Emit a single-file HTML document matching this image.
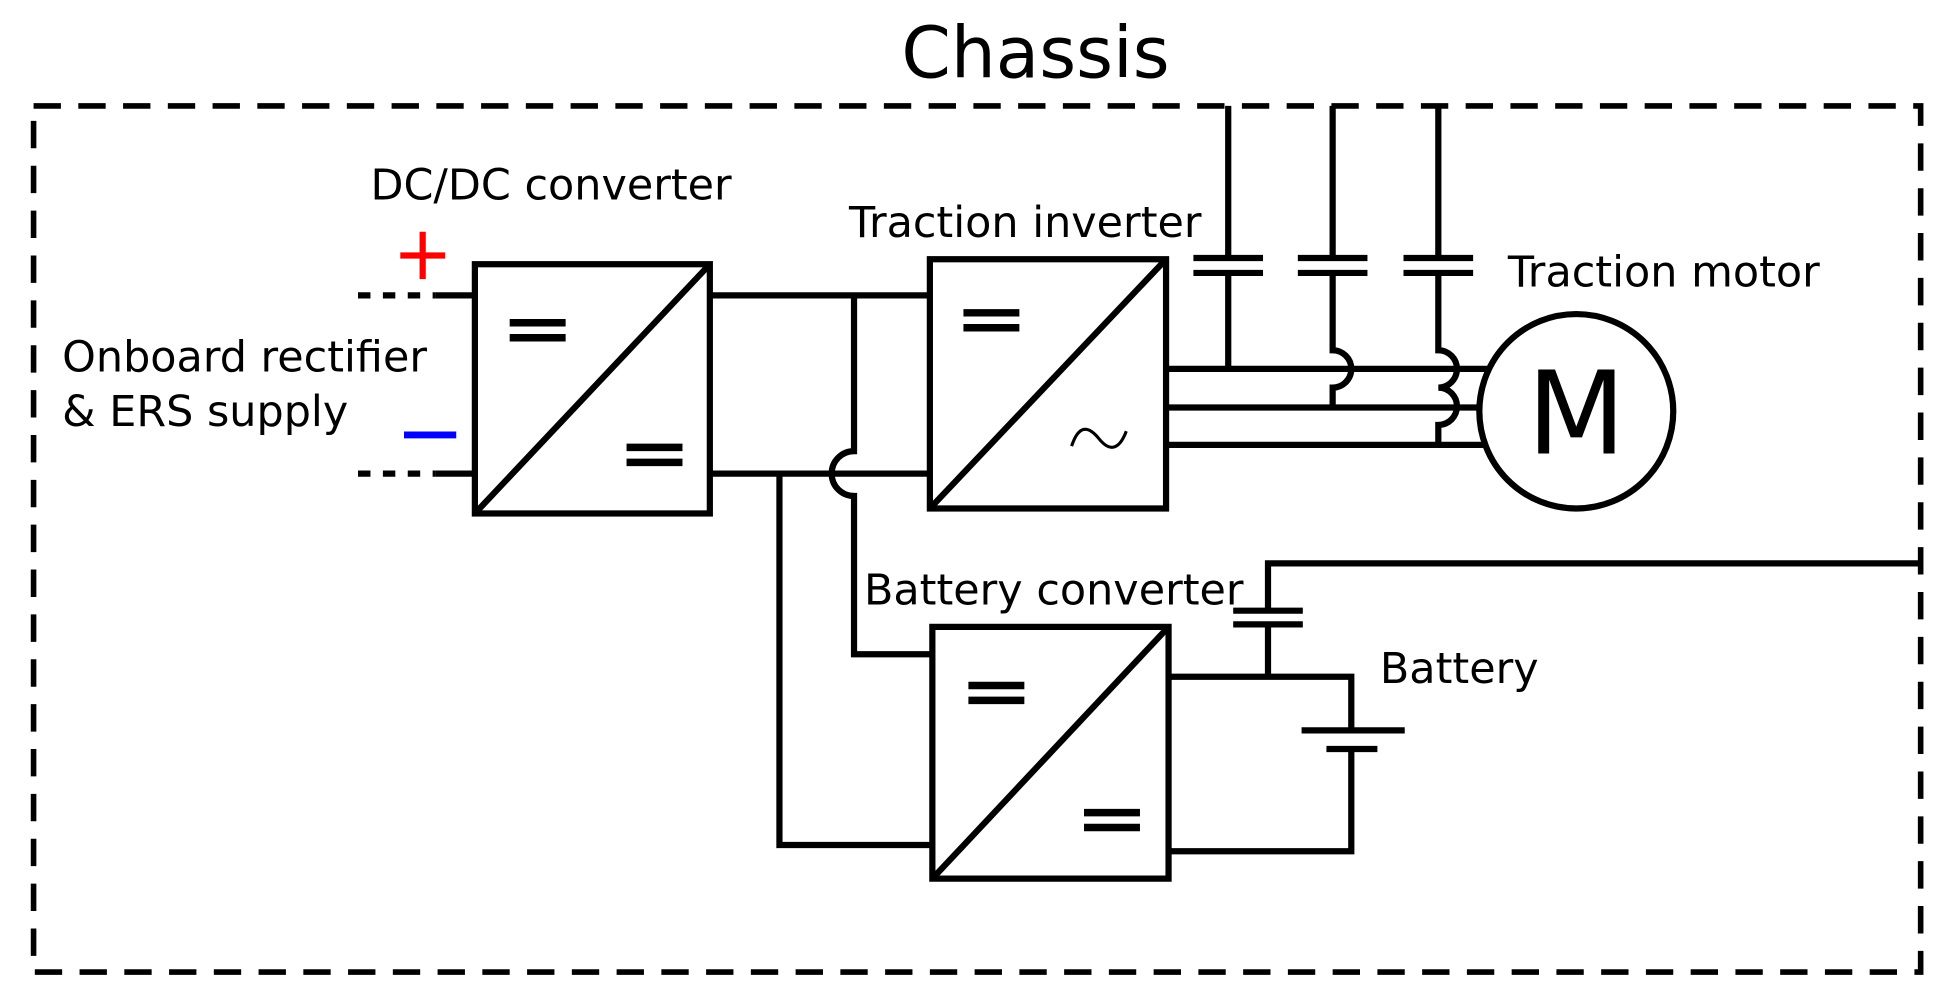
<!DOCTYPE html>
<html><head><style>html,body{margin:0;padding:0;background:#fff}svg{display:block}</style></head>
<body>
<svg width="1948" height="1007" viewBox="0 0 1567 808" preserveAspectRatio="none" xmlns="http://www.w3.org/2000/svg">
<g font-family="DejaVu Sans, Liberation Sans, sans-serif" fill="#000">
<text x="833" y="62" font-size="57" text-anchor="middle">Chassis</text>
<text x="298" y="160" font-size="34.5">DC/DC converter</text>
<text x="683" y="190" font-size="34.5">Traction inverter</text>
<text x="1213" y="230" font-size="34.5">Traction motor</text>
<text x="50" y="298" font-size="34.5">Onboard rectifier</text>
<text x="50" y="342" font-size="34.5">&amp; ERS supply</text>
<text x="695" y="485" font-size="34.5">Battery converter</text>
<text x="1110" y="548" font-size="34.5">Battery</text>
</g>
<rect x="27" y="85" width="1518" height="695" fill="none" stroke="#000" stroke-width="4.5" stroke-dasharray="22,14"/>
<g stroke="#000" stroke-width="5" fill="none">
<path d="M340 186V224M322 205H358" stroke="#f00"/>
<path d="M325 349H367" stroke="#00f" stroke-width="5.5"/>
<path d="M288 237H350" stroke-dasharray="10,10"/>
<path d="M350 237H382"/>
<path d="M288 380H350" stroke-dasharray="10,10"/>
<path d="M350 380H382"/>
<rect x="382" y="212" width="189" height="200"/>
<path d="M382 412L571 212"/>
<path d="M410 259H455M410 271H455M504 359H549M504 371H549" stroke-width="6"/>
<path d="M571 237H748"/>
<path d="M571 380H748"/>
<path d="M687 237V362A18 18 0 0 0 687 398V525H750"/>
<path d="M627 380V678H750"/>
<rect x="748" y="208" width="190" height="200"/>
<path d="M748 408L938 208"/>
<path d="M775 251H820M775 263H820" stroke-width="6"/>
<path d="M862 358C868 340 876 342 884 352S900 362 906 346" stroke-width="2.5"/>
<path d="M938 296H1198M938 327H1190M938 357H1193"/>
<circle cx="1268" cy="330" r="78"/>
<path d="M988 85V207M960 207H1016M960 219H1016M988 219V296"/>
<path d="M1072 85V207M1044 207H1100M1044 219H1100M1072 219V281A15 15 0 0 1 1072 311V327"/>
<path d="M1157 85V207M1129 207H1185M1129 219H1185M1157 219V281A15 15 0 0 1 1157 311A15 15 0 0 1 1157 341V357"/>
<rect x="750" y="503" width="190" height="202"/>
<path d="M750 705L940 503"/>
<path d="M779 550H824M779 562H824M872 652H917M872 664H917" stroke-width="6"/>
<path d="M940 543H1087V586M1047 586H1130M1067 601H1108M1087 601V683H940"/>
<path d="M1020 543V501M992 501H1048M992 490H1048M1020 490V452H1545"/>
</g>
<text x="1268" y="364" font-family="DejaVu Sans, Liberation Sans, sans-serif" font-size="92" text-anchor="middle">M</text>
</svg>
</body></html>
